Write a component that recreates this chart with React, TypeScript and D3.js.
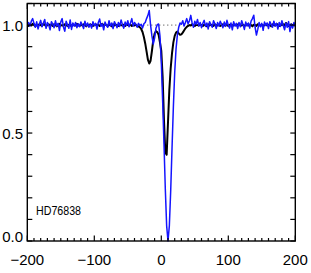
import React from "react";
import * as d3 from "d3";

const WIDTH = 311;
const HEIGHT = 273;

const V_START = -200;
const V_STEP = 2;

// Normalized flux of the blue spectrum, sampled every 2 km/s from -200 to 200
const blueFlux = [
  1.000, 1.012, 0.995, 1.018, 1.030, 1.008, 0.990, 1.015, 0.982, 1.004,
  1.022, 0.992, 1.010, 1.026, 0.985, 1.012, 1.000, 0.978, 1.016, 1.005,
  0.988, 1.020, 0.996, 1.008, 0.975, 1.015, 1.030, 0.990, 0.972, 1.018,
  1.002, 0.985, 1.024, 0.980, 1.010, 0.995, 1.012, 0.988, 1.006, 0.992,
  1.014, 1.000, 0.984, 1.018, 0.996, 1.010, 0.990, 1.004, 0.986, 1.016,
  0.998, 1.008, 0.982, 1.012, 1.028, 0.994, 1.006, 0.978, 1.014, 1.000,
  0.990, 1.020, 0.996, 1.010, 0.984, 1.016, 1.004, 0.988, 1.012, 0.994,
  1.024, 1.002, 0.986, 1.014, 0.998, 1.020, 0.992, 1.010, 1.030, 0.996,
  1.012, 1.004, 0.990, 1.008, 0.998, 1.004, 0.986, 1.006, 1.012, 1.030,
  1.045, 1.068, 1.000, 0.950, 0.912, 0.940, 0.985, 1.002, 1.005, 0.950,
  0.830, 0.650, 0.450, 0.240, 0.070, 0.000, 0.070, 0.230, 0.430, 0.620,
  0.780, 0.890, 0.955, 0.990, 1.010, 1.004, 1.020, 0.996, 1.012, 1.030,
  1.006, 1.020, 1.045, 1.010, 0.990, 1.018, 1.004, 1.026, 0.996, 1.012,
  0.988, 1.008, 1.022, 0.994, 1.010, 0.982, 1.016, 1.002, 0.990, 1.020,
  1.006, 0.984, 1.012, 0.996, 1.018, 1.004, 0.988, 1.014, 0.994, 1.022,
  1.000, 0.986, 1.010, 0.978, 1.016, 0.996, 1.008, 0.984, 1.012, 0.992,
  1.020, 1.002, 0.980, 1.014, 0.996, 1.010, 0.986, 1.018, 1.030, 1.046,
  0.990, 0.954, 0.980, 1.012, 0.992, 1.008, 0.976, 1.014, 0.998, 1.010,
  0.984, 1.016, 1.002, 0.990, 1.018, 0.996, 1.008, 0.982, 1.012, 0.994,
  1.020, 0.998, 0.978, 1.010, 0.990, 1.016, 0.970, 1.004, 0.986, 1.012,
  0.992,
];

// Normalized flux of the black spectrum, same sampling
const blackFlux = [
  1.000, 0.996, 1.004, 0.998, 1.006, 1.000, 0.994, 1.002, 0.998, 1.004,
  1.000, 0.996, 1.006, 1.002, 0.994, 1.000, 1.004, 0.998, 1.002, 0.996,
  1.004, 1.000, 0.994, 1.002, 1.006, 0.998, 1.000, 0.996, 1.004, 1.000,
  0.996, 1.002, 1.000, 0.994, 1.004, 1.000, 0.998, 1.006, 1.000, 0.996,
  1.002, 0.998, 1.004, 1.000, 0.994, 1.002, 0.998, 1.004, 1.000, 0.996,
  1.000, 1.004, 0.998, 1.002, 0.996, 1.000, 1.006, 0.998, 1.002, 1.000,
  0.996, 1.002, 1.000, 0.994, 1.004, 0.998, 1.002, 1.000, 0.996, 1.004,
  1.000, 0.998, 1.002, 0.996, 1.004, 1.000, 0.998, 1.002, 0.996, 1.000,
  0.998, 1.002, 0.996, 0.994, 0.990, 0.982, 0.968, 0.945, 0.915, 0.878,
  0.840, 0.822, 0.835, 0.880, 0.930, 0.960, 0.972, 0.968, 0.955, 0.920,
  0.880, 0.760, 0.560, 0.410, 0.400, 0.550, 0.700, 0.800, 0.870, 0.920,
  0.950, 0.965, 0.970, 0.962, 0.955, 0.957, 0.965, 0.975, 0.985, 0.992,
  0.996, 1.000, 0.998, 1.004, 1.000, 0.996, 1.002, 1.000, 0.998, 1.004,
  1.000, 0.996, 1.002, 1.000, 0.994, 1.004, 0.998, 1.002, 1.000, 0.996,
  1.004, 1.000, 0.998, 1.002, 0.996, 1.000, 1.004, 0.998, 1.002, 1.000,
  0.996, 1.002, 1.000, 0.994, 1.004, 1.000, 0.998, 1.002, 1.006, 1.000,
  0.998, 1.002, 0.996, 1.000, 1.004, 0.998, 1.002, 1.000, 0.994, 1.002,
  1.000, 0.996, 1.004, 1.000, 0.998, 1.002, 0.996, 1.000, 1.004, 0.998,
  1.002, 1.000, 0.994, 1.004, 1.000, 0.998, 1.006, 1.000, 0.996, 1.002,
  1.000, 1.004, 0.998, 1.010, 1.002, 0.996, 1.000, 1.004, 0.998, 1.002,
  1.000,
];

const xTickLabels = [-200, -100, 0, 100, 200];
const yTickLabels = [0.0, 0.5, 1.0];
const starName = "HD76838";

const X_DOMAIN: [number, number] = [-200, 200];
const Y_DOMAIN: [number, number] = [0, 1.1];

export default function App() {
  const left = 27.3;
  const right = 295.3;
  const top = 3.5;
  const bottom = 241;

  const x = d3.scaleLinear().domain(X_DOMAIN).range([left, right]);
  const y = d3.scaleLinear().domain(Y_DOMAIN).range([bottom, top]);

  const toPts = (arr: number[]) =>
    arr.map((f, i) => [V_START + i * V_STEP, f] as [number, number]);

  const line = d3
    .line<[number, number]>()
    .x((d) => x(d[0]))
    .y((d) => y(d[1]));

  const xMinor = d3.range(-200, 201, 10);
  const yMinor = d3.range(0, 1.1001, 0.1);

  const font = "'Liberation Sans', Arial, Helvetica, sans-serif";

  return (
    <svg
      width={WIDTH}
      height={HEIGHT}
      style={{ position: "absolute", left: 0, top: 0, background: "#fff" }}
    >
      <rect x={0} y={0} width={WIDTH} height={HEIGHT} fill="#fff" />
      <defs>
        <clipPath id="plotclip">
          <rect x={left} y={top} width={right - left} height={bottom - top + 1} />
        </clipPath>
      </defs>
      {/* reference line at 1.0 */}
      <line
        x1={left}
        x2={right}
        y1={y(1)}
        y2={y(1)}
        stroke="#333"
        strokeWidth={1}
        strokeDasharray="1,3"
      />
      <g clipPath="url(#plotclip)">
        <path
          d={line(toPts(blackFlux)) || ""}
          fill="none"
          stroke="#000"
          strokeWidth={2}
          strokeLinejoin="round"
        />
        <path
          d={line(toPts(blueFlux)) || ""}
          fill="none"
          stroke="#1414ff"
          strokeWidth={1.5}
          strokeLinejoin="round"
        />
      </g>
      {/* frame */}
      <rect
        x={left}
        y={top}
        width={right - left}
        height={bottom - top}
        fill="none"
        stroke="#000"
        strokeWidth={1.4}
      />
      {/* x ticks bottom & top */}
      {xMinor.map((v) => {
        const major = v % 100 === 0;
        const len = major ? 5.5 : 3;
        return (
          <g key={"xt" + v}>
            <line x1={x(v)} x2={x(v)} y1={bottom} y2={bottom - len} stroke="#000" strokeWidth={1.2} />
            <line x1={x(v)} x2={x(v)} y1={top} y2={top + len} stroke="#000" strokeWidth={1.2} />
          </g>
        );
      })}
      {/* y ticks left & right */}
      {yMinor.map((v, i) => (
        <g key={"yt" + i}>
          <line x1={left} x2={left + 5} y1={y(v)} y2={y(v)} stroke="#000" strokeWidth={1.2} />
          <line x1={right} x2={right - 5} y1={y(v)} y2={y(v)} stroke="#000" strokeWidth={1.2} />
        </g>
      ))}
      {/* x tick labels */}
      {xTickLabels.map((v) => (
        <text
          key={"xl" + v}
          x={x(v)}
          y={265}
          textAnchor="middle"
          fontFamily={font}
          fontSize={15}
          fill="#000"
        >
          {v < 0 ? "\u2212" + Math.abs(v) : String(v)}
        </text>
      ))}
      {/* y tick labels */}
      {yTickLabels.map((v) => (
        <text
          key={"yl" + v}
          x={23}
          y={Math.min(y(v) + 5.5, 242)}
          textAnchor="end"
          fontFamily={font}
          fontSize={15}
          fill="#000"
        >
          {v.toFixed(1)}
        </text>
      ))}
      <text
        x={36}
        y={215}
        fontFamily={font}
        fontSize={13}
        textLength={45}
        lengthAdjust="spacingAndGlyphs"
        fill="#000"
      >
        {starName}
      </text>
    </svg>
  );
}
